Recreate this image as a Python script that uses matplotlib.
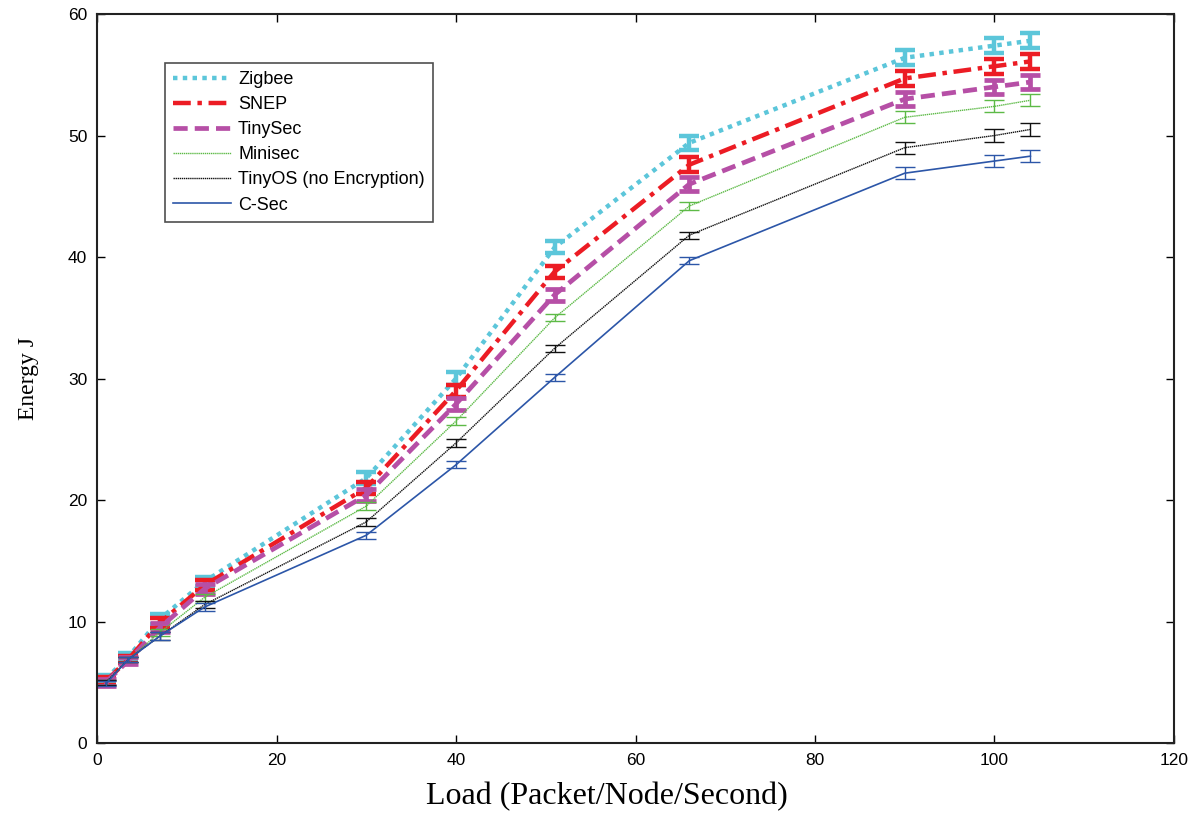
import matplotlib.pyplot as plt

load = [1, 3.5, 7, 12, 30, 40, 51, 66, 90, 100, 104]

zigbee = [5.3, 7.1, 10.2, 13.3, 21.8, 30.0, 40.8, 49.4, 56.4, 57.4, 57.8]
snep = [5.1, 6.9, 9.9, 13.0, 21.0, 29.0, 38.8, 47.6, 54.7, 55.7, 56.1]
tinysec = [5.0, 6.8, 9.5, 12.7, 20.4, 27.9, 36.9, 46.0, 53.0, 54.0, 54.4]
minisec = [5.0, 6.9, 9.1, 12.0, 19.5, 26.5, 35.0, 44.2, 51.5, 52.4, 52.9]
tinyos = [5.0, 6.9, 8.8, 11.4, 18.2, 24.7, 32.5, 41.8, 49.0, 50.0, 50.5]
csec = [4.9, 6.9, 8.8, 11.2, 17.1, 22.9, 30.1, 39.7, 46.9, 47.9, 48.3]

err_thick = [0.3, 0.3, 0.4, 0.4, 0.5, 0.5, 0.5, 0.6, 0.6, 0.6, 0.6]
err_thin = [0.2, 0.2, 0.3, 0.3, 0.3, 0.3, 0.3, 0.3, 0.5, 0.5, 0.5]

series = [
    ('Zigbee', zigbee, err_thick, '#5cc6da', (0, (1, 1.2)), 3.2),
    ('SNEP', snep, err_thick, '#ec1c24', (0, (4, 1.5, 1, 1.5)), 3.2),
    ('TinySec', tinysec, err_thick, '#b64fa6', (0, (3, 1.5)), 3.4),
    ('Minisec', minisec, err_thin, '#5dba47', (0, (1, 0.5)), 1.0),
    ('TinyOS (no Encryption)', tinyos, err_thin, '#111111', (0, (1, 0.5)), 1.0),
    ('C-Sec', csec, err_thin, '#2c56a8', '-', 1.2),
]

fig = plt.figure(figsize=(12.01, 8.15), dpi=100)
ax = fig.add_axes([0.0808, 0.0883, 0.8967, 0.8945])

for name, vals, err, col, ls, lw in series:
    ax.plot(load, vals, color=col, linestyle=ls, linewidth=lw, label=name)
    ax.errorbar(load, vals, yerr=err, fmt='none', ecolor=col,
                elinewidth=lw if lw > 2 else 1.0, capsize=7,
                capthick=lw if lw > 2 else 1.0)

ax.set_xlim(0, 120)
ax.set_ylim(0, 60)
ax.set_xticks(range(0, 121, 20))
ax.set_yticks(range(0, 61, 10))
ax.tick_params(direction='in', top=True, right=True, length=6, width=1,
               labelsize=12.5, pad=7)
for lab in ax.get_xticklabels() + ax.get_yticklabels():
    lab.set_family('Liberation Sans')
for s in ax.spines.values():
    s.set_linewidth(1.5)
    s.set_color('#222222')

ax.set_xlabel('Load (Packet/Node/Second)', family='Liberation Serif',
              fontsize=23, labelpad=10, x=0.4735)
ax.set_ylabel('Energy J', family='Liberation Serif', fontsize=17, labelpad=21)

leg = ax.legend(loc='upper left', bbox_to_anchor=(0.063, 0.933),
                borderaxespad=0, fancybox=False, edgecolor='#222222',
                prop={'family': 'Liberation Sans', 'size': 13},
                handlelength=3.2, handletextpad=0.4, labelspacing=0.45,
                borderpad=0.45)
leg.get_frame().set_linewidth(1.2)

fig.savefig('out.png', dpi=100)
